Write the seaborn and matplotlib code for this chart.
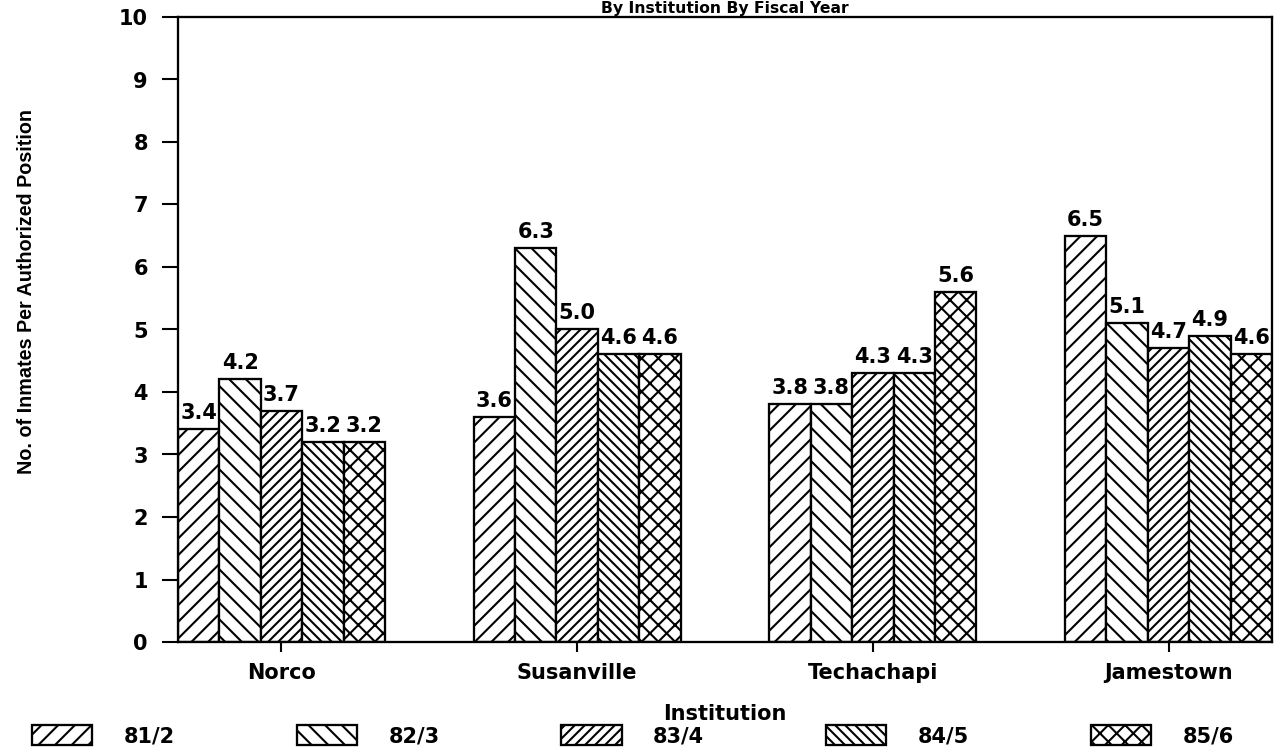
import matplotlib
matplotlib.use("Agg")
import matplotlib.pyplot as plt
from matplotlib.patches import Patch
import seaborn as sns
import pandas as pd

institutions = ["Norco", "Susanville", "Techachapi", "Jamestown"]
years = ["81/2", "82/3", "83/4", "84/5", "85/6"]
v_81_2 = [3.4, 3.6, 3.8, 6.5]
v_82_3 = [4.2, 6.3, 3.8, 5.1]
v_83_4 = [3.7, 5.0, 4.3, 4.7]
v_84_5 = [3.2, 4.6, 4.3, 4.9]
v_85_6 = [3.2, 4.6, 5.6, 4.6]
series = [v_81_2, v_82_3, v_83_4, v_84_5, v_85_6]
hatches = ["///", "\\\\\\", "/////", "\\\\\\\\\\", "xxx"]
yticks = list(range(0, 11))

rows = []
for yr, vals in zip(years, series):
    for inst, v in zip(institutions, vals):
        rows.append({"Institution": inst, "Year": yr, "Value": v})
df = pd.DataFrame(rows)

sns.set_style("ticks")
plt.rcParams["font.family"] = ["DejaVu Sans"]
plt.rcParams["hatch.linewidth"] = 1.0

DPI = 150
fig = plt.figure(figsize=(1276 / DPI, 747 / DPI), dpi=DPI)
ax = fig.add_axes([178 / 1276, 1 - 642 / 747, (1272 - 178) / 1276, (642 - 17) / 747])

sns.barplot(data=df, x="Institution", y="Value", hue="Year", order=institutions,
            hue_order=years, palette=["white"] * 5, edgecolor="black",
            linewidth=1.1, width=0.7, gap=0, ax=ax, legend=False, errorbar=None)

for cont, h, vals in zip(ax.containers, hatches, series):
    for bar in cont:
        bar.set_hatch(h)
        bar.set_facecolor("white")
        bar.set_edgecolor("black")
    ax.bar_label(cont, labels=[f"{v:.1f}" for v in vals], padding=3,
                 fontsize=10, fontweight="bold", color="black")

ax.set_xlim(-0.35, 3.35)
ax.set_ylim(0, 10)
ax.set_yticks(yticks)
ax.set_yticklabels([str(t) for t in yticks], fontsize=10, fontweight="bold")
ax.set_xticks(range(len(institutions)))
ax.set_xticklabels(institutions, fontsize=10, fontweight="bold")
ax.tick_params(axis="both", colors="black")
ax.tick_params(axis="y", length=7.5, width=1, pad=7, direction="out")
ax.tick_params(axis="x", length=5, width=1, pad=5, direction="out")
for s in ax.spines.values():
    s.set_visible(True)
    s.set_linewidth(1.1)
    s.set_color("black")

ax.set_xlabel("")
ax.set_ylabel("No. of Inmates Per Authorized Position", fontsize=9.5,
              fontweight="bold", family=["Liberation Sans", "DejaVu Sans"],
              color="black")
ax.yaxis.set_label_coords(-0.13, 0.56)

fig.text(725 / 1276, 1 - 720 / 747, "Institution", ha="center",
         va="baseline", fontsize=10, fontweight="bold", color="black")

fig.text(725 / 1276, 1 - 13 / 747, "By Institution By Fiscal Year", ha="center",
         va="baseline", fontsize=7.5, fontweight="bold", color="black")

handles = [Patch(facecolor="white", edgecolor="black", hatch=h, linewidth=1.1)
           for h in hatches]
leg = fig.legend(handles, years, loc="lower left", bbox_to_anchor=(32 / 1276, 1 / 747),
                 ncol=5, frameon=False, prop={"size": 10, "weight": "bold"},
                 handlelength=2.9, handleheight=1.15, handletextpad=1.5,
                 columnspacing=5.85, borderpad=0, borderaxespad=0)
for t in leg.get_texts():
    t.set_color("black")

fig.savefig("out.png", dpi=DPI)
